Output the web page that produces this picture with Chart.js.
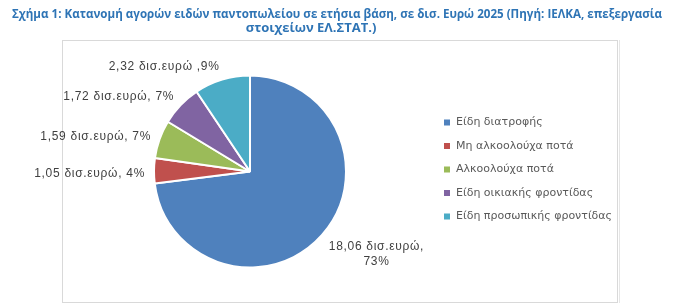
<!DOCTYPE html>
<html>
<head>
<meta charset="utf-8">
<script src="https://cdn.jsdelivr.net/npm/chart.js@4.4.1/dist/chart.umd.min.js"></script>
<style>
html,body{margin:0;padding:0;background:#fff;}
#wrap{position:relative;width:673px;height:306px;}
canvas{position:absolute;left:0;top:0;}
</style>
</head>
<body>
<div id="wrap"><canvas id="c" width="673" height="306"></canvas></div>
<script>
const categories = ["Είδη διατροφής", "Μη αλκοολούχα ποτά", "Αλκοολούχα ποτά", "Είδη οικιακής φροντίδας", "Είδη προσωπικής φροντίδας"];
const valuesBillion = [18.06, 1.05, 1.59, 1.72, 2.32];
const percentLabels = [73, 4, 7, 7, 9];
const sliceColors = ["#4F81BD", "#C0504D", "#9BBB59", "#8064A2", "#4BACC6"];
const titleLines = ["Σχήμα 1: Κατανομή αγορών ειδών παντοπωλείου σε ετήσια βάση, σε δισ. Ευρώ 2025 (Πηγή: ΙΕΛΚΑ, επεξεργασία", "στοιχείων ΕΛ.ΣΤΑΤ.)"];

function labelLines(i) {
  const v = valuesBillion[i].toFixed(2).replace('.', ',');
  if (i === 0) return [v + " δισ.ευρώ,", percentLabels[i] + "%"];
  if (i === 4) return [v + " δισ.ευρώ ," + percentLabels[i] + "%"];
  return [v + " δισ.ευρώ, " + percentLabels[i] + "%"];
}

const framePlugin = {
  id: 'frame',
  beforeDraw(chart) {
    const ctx = chart.ctx;
    ctx.save();
    ctx.fillStyle = '#fff';
    ctx.fillRect(0, 0, chart.width, chart.height);
    ctx.strokeStyle = '#d9d9d9';
    ctx.lineWidth = 1;
    ctx.strokeRect(62.5, 40.5, 555, 262);
    ctx.strokeStyle = '#e6e6e6';
    ctx.beginPath(); ctx.moveTo(619.5, 40); ctx.lineTo(619.5, 303); ctx.stroke();
    // title
    ctx.fillStyle = '#2E74B5';
    ctx.font = 'bold 13px "Open Sans", sans-serif';
    ctx.textBaseline = 'middle';
    ctx.textAlign = 'center';
    ctx.fillText(titleLines[0], 337, 14, 650);
    ctx.fillText(titleLines[1], 311, 28.5, 195);
    ctx.restore();
  },
  afterDraw(chart) {
    const ctx = chart.ctx;
    const meta = chart.getDatasetMeta(0);
    ctx.save();
    // data labels
    ctx.font = '12px "Liberation Sans", Arial, sans-serif';
    ctx.letterSpacing = '0.7px';
    ctx.fillStyle = '#404040';
    ctx.textBaseline = 'middle';
    meta.data.forEach((arc, i) => {
      const p = arc.getProps(['x', 'y', 'startAngle', 'endAngle', 'outerRadius'], true);
      const mid = (p.startAngle + p.endAngle) / 2;
      const r = p.outerRadius + 9;
      const ax = p.x + Math.cos(mid) * r;
      const ay = p.y + Math.sin(mid) * r;
      const lines = labelLines(i);
      const lh = 15;
      const h = lines.length * lh;
      const w = Math.max(...lines.map(l => ctx.measureText(l).width));
      const c = Math.cos(mid), s = Math.sin(mid);
      let cx;
      if (c < 0) cx = ax - w / 2; else cx = ax + w / 2;
      const cy = ay + s * h / 2 + 3;
      ctx.textAlign = 'center';
      lines.forEach((l, k) => {
        ctx.fillText(l, cx, cy - h / 2 + lh / 2 + k * lh);
      });
    });
    // legend
    ctx.letterSpacing = '0px';
    ctx.font = '11px "DejaVu Sans", sans-serif';
    ctx.textAlign = 'left';
    categories.forEach((name, i) => {
      const y = 122.5 + i * 23.5;
      ctx.fillStyle = sliceColors[i];
      ctx.fillRect(444, y - 3, 6, 6);
      ctx.fillStyle = '#595959';
      ctx.fillText(name, 456, y);
    });
    ctx.restore();
  }
};

new Chart(document.getElementById('c'), {
  type: 'pie',
  data: {
    labels: categories,
    datasets: [{
      data: valuesBillion,
      backgroundColor: sliceColors,
      borderColor: '#ffffff',
      borderWidth: 2
    }]
  },
  options: {
    responsive: false,
    animation: false,
    layout: { padding: { left: 153, top: 74, right: 326, bottom: 37 } },
    plugins: { legend: { display: false }, title: { display: false }, tooltip: { enabled: false } }
  },
  plugins: [framePlugin]
});
</script>
</body>
</html>
